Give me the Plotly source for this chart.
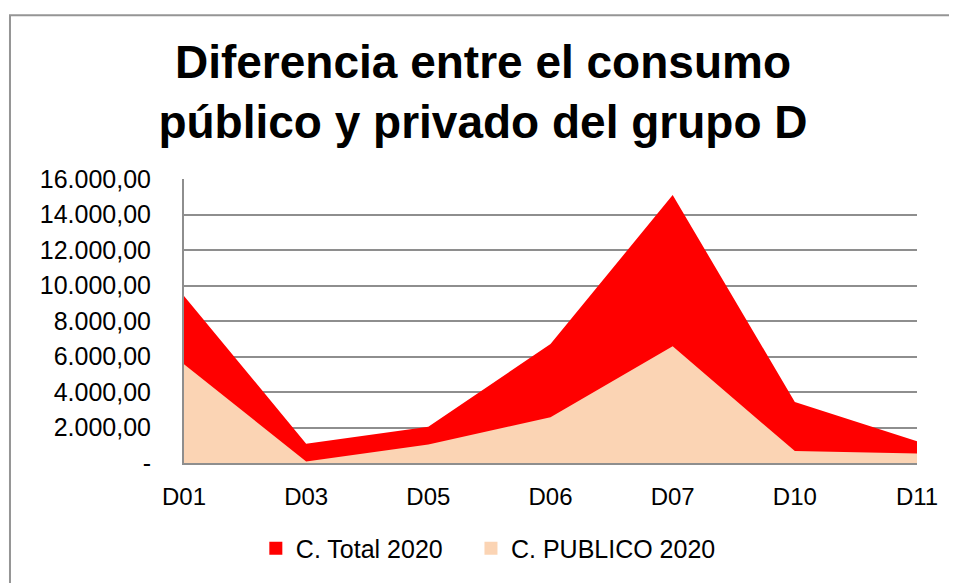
import plotly.graph_objects as go

categories = ["D01", "D03", "D05", "D06", "D07", "D10", "D11"]
total_2020 = [9410, 1090, 2040, 6700, 15100, 3440, 1230]
publico_2020 = [5560, 90, 1040, 2580, 6580, 670, 540]
y_ticks = [0, 2000, 4000, 6000, 8000, 10000, 12000, 14000, 16000]
y_tick_labels = ["-", "2.000,00", "4.000,00", "6.000,00", "8.000,00",
                 "10.000,00", "12.000,00", "14.000,00", "16.000,00"]
series_names = ["C. Total 2020", "C. PUBLICO 2020"]
series_colors = ["#FF0000", "#FBD4B4"]

FONT = "Arial, Liberation Sans, sans-serif"
GRID = "#8e8e8e"

fig = go.Figure()
for name, vals, col in zip(series_names, [total_2020, publico_2020], series_colors):
    fig.add_trace(go.Scatter(
        x=categories, y=vals, name=name, showlegend=False,
        mode="lines", fill="tozeroy", line=dict(width=0, color=col),
        fillcolor=col, hoverinfo="x+y+name"))
# legend swatches (square keys like the original)
for name, col, lg in zip(series_names, series_colors, ["legend", "legend2"]):
    fig.add_trace(go.Scatter(
        x=[None], y=[None], name=name, mode="markers", legend=lg,
        marker=dict(symbol="square", size=13, color=col), showlegend=True))

legend_common = dict(orientation="h", xanchor="left", y=-0.3007, yanchor="middle",
                     font=dict(size=25), borderwidth=0, bgcolor="rgba(0,0,0,0)")

fig.update_layout(
    width=949, height=575,
    margin=dict(l=176, r=40, t=171, b=118),
    paper_bgcolor="white", plot_bgcolor="white",
    font=dict(family=FONT, size=24, color="black"),
    title=dict(text="<b>Diferencia entre el consumo<br>público y privado del grupo D</b>",
               x=0.5005, xanchor="center", y=0.878, yanchor="middle",
               font=dict(family=FONT, size=46, color="black")),
    xaxis=dict(type="category", range=[0, 6], showgrid=False,
               showline=True, linecolor=GRID, linewidth=2,
               ticks="", tickfont=dict(size=24), ticklabelstandoff=11),
    yaxis=dict(range=[0, 16000], tickvals=y_ticks, ticktext=y_tick_labels,
               showgrid=True, gridcolor=GRID, gridwidth=2,
               showline=True, linecolor=GRID, linewidth=2,
               ticks="", tickfont=dict(size=25), zeroline=False,
               ticklabelstandoff=26),
    legend=dict(x=0.098, **legend_common),
    legend2=dict(x=0.3915, **legend_common),
    showlegend=True,
    shapes=[dict(type="rect", xref="paper", yref="paper",
                 x0=-0.2374, x1=1.2, y0=-0.6, y1=1.577,
                 line=dict(color="#959595", width=2), fillcolor="rgba(0,0,0,0)",
                 layer="below")],
)

fig.write_html("out.html")
